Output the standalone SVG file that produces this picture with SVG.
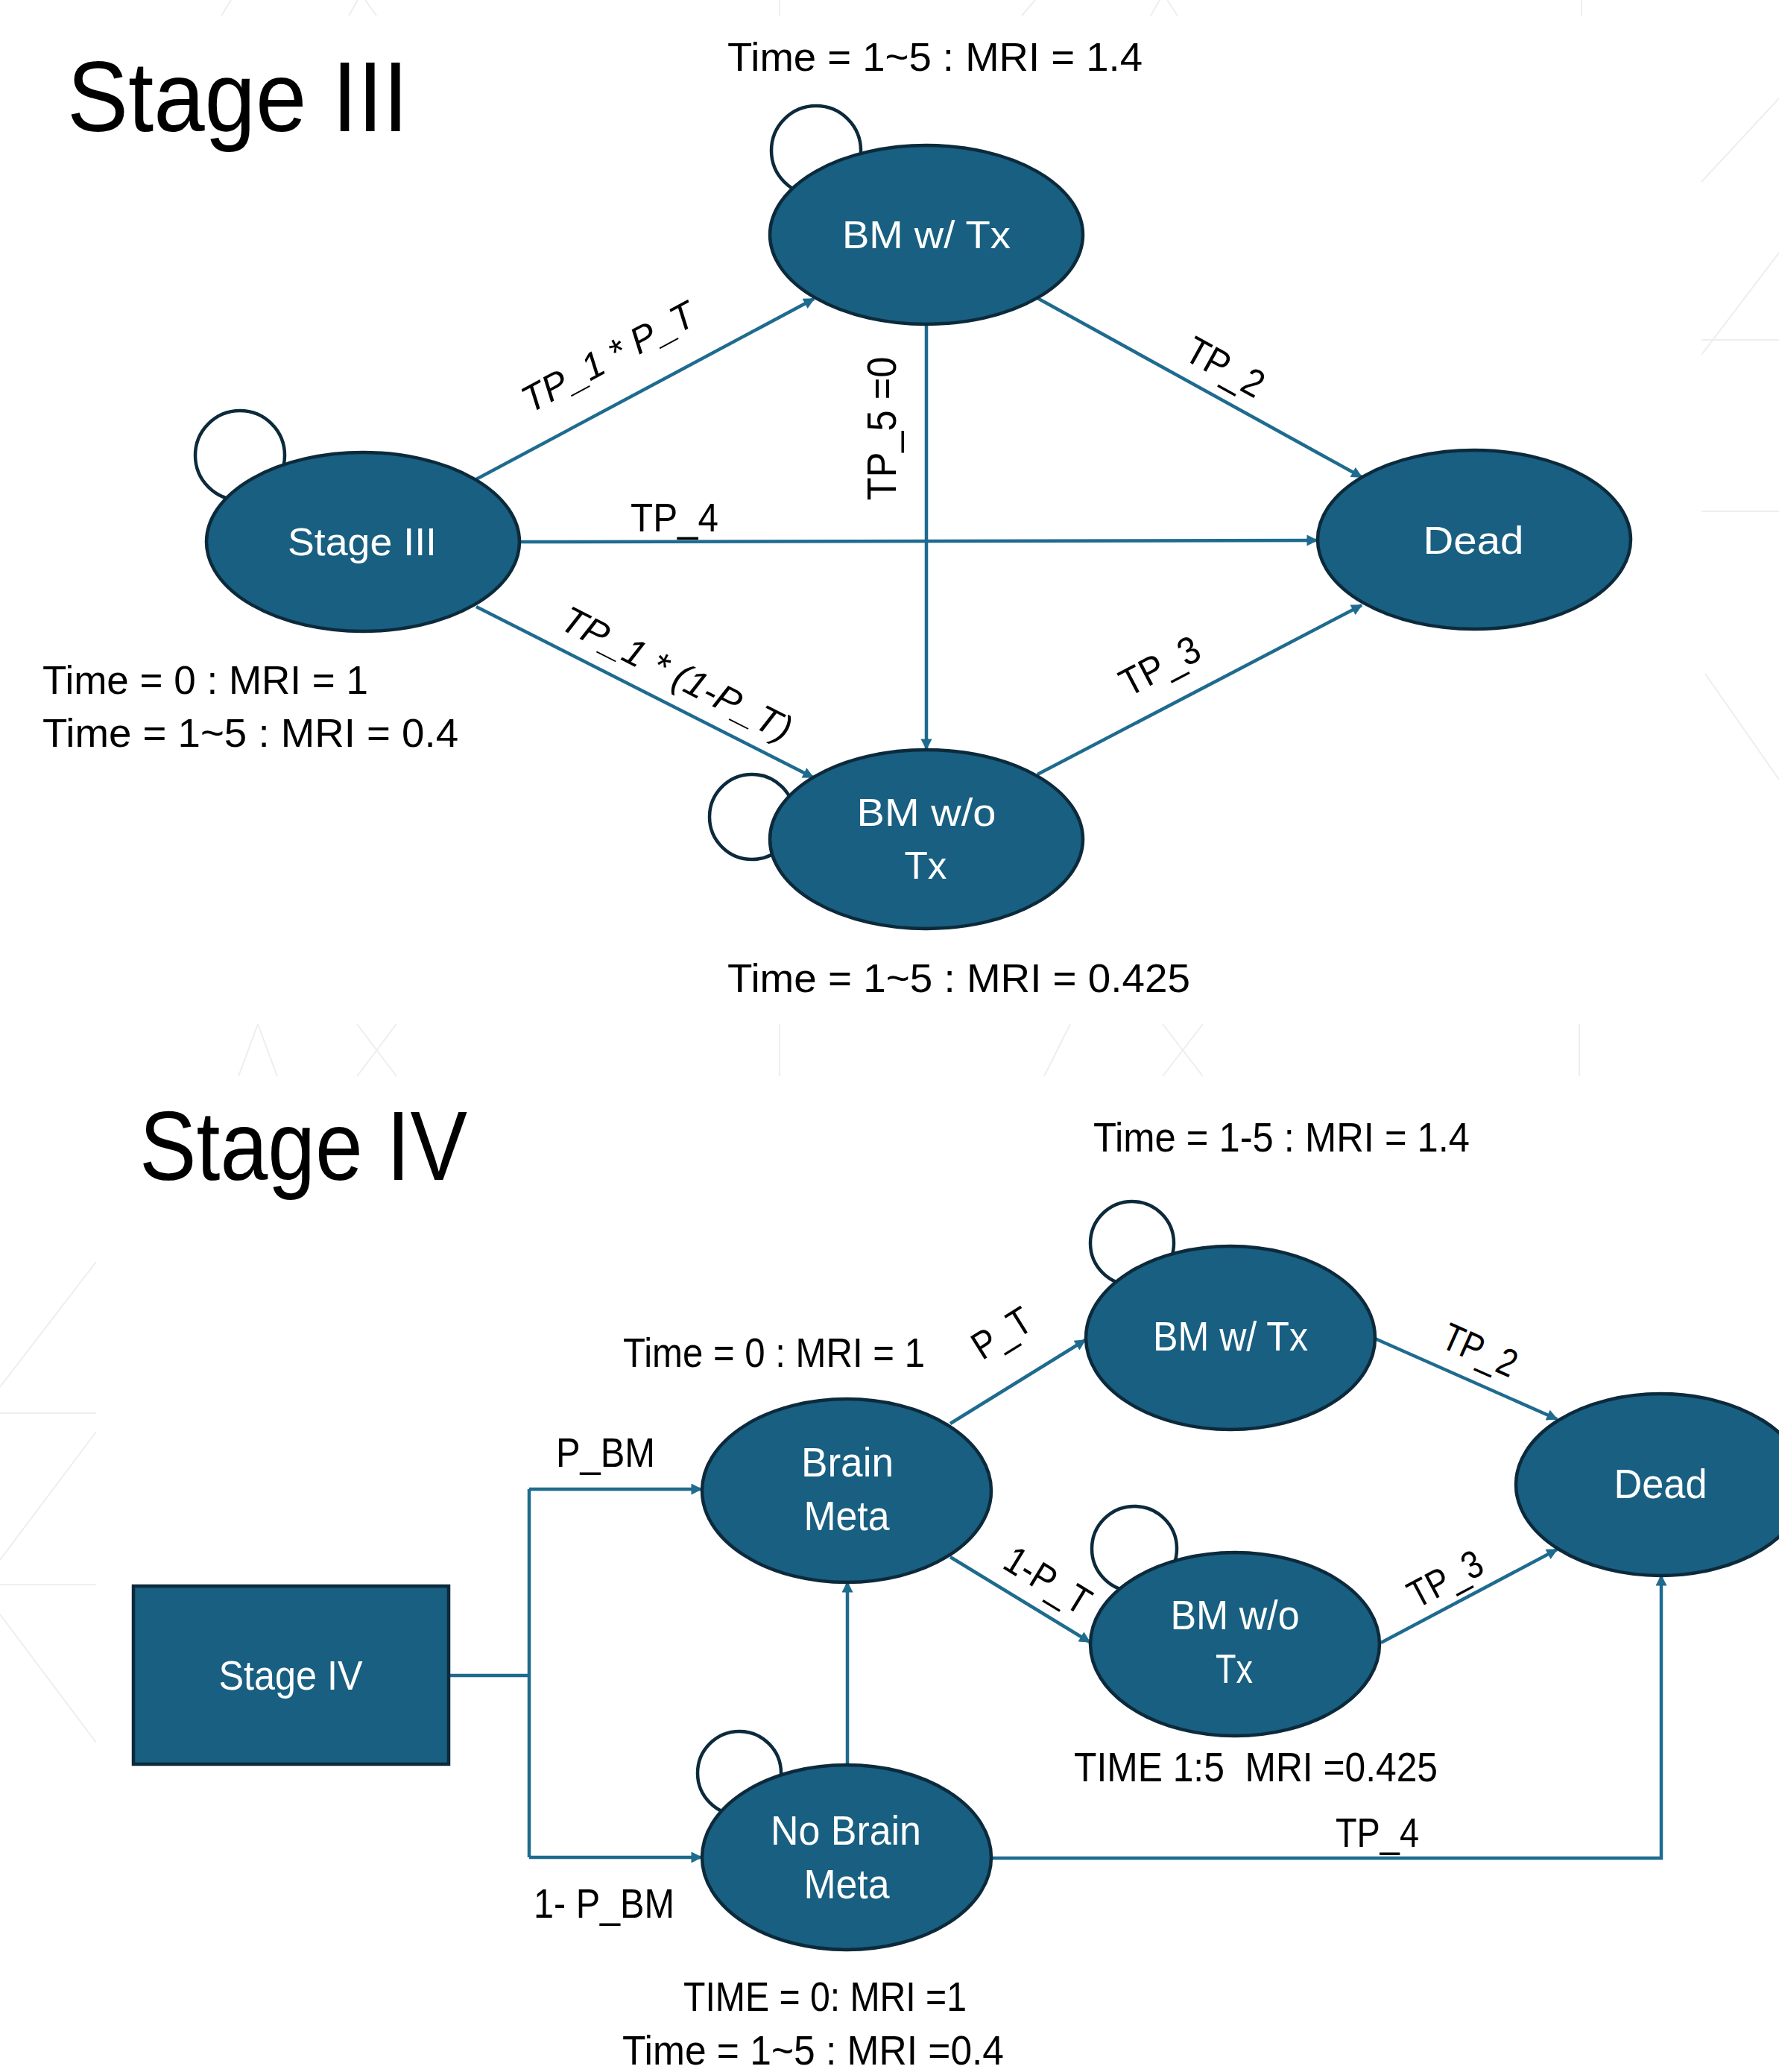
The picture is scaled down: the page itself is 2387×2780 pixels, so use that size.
<svg xmlns="http://www.w3.org/2000/svg" width="2387" height="2780" viewBox="0 0 2387 2780">
<style>
.node{fill:#185F81;stroke:#0C2A3B;stroke-width:4.5}
.loop{fill:none;stroke:#0C2A3B;stroke-width:4.5}
.edge{fill:none;stroke:#1E6B8F;stroke-width:4.5}
.bg{fill:none;stroke:#EEEEEE;stroke-width:2}
.nt{fill:#FFFFFF;font-family:"Liberation Sans",Arial,sans-serif;text-anchor:middle}
.lb{fill:#000000;font-family:"Liberation Sans",Arial,sans-serif}
.it{font-style:italic}
.title{fill:#000000;font-family:"Liberation Sans",Arial,sans-serif}
</style>
<defs>
<marker id="arr" viewBox="0 0 10 10" refX="9" refY="5" markerUnits="userSpaceOnUse" markerWidth="18" markerHeight="15" orient="auto">
<path d="M0,0 L10,5 L0,10 z" fill="#1E6B8F"/>
</marker>
</defs>
<rect x="0" y="0" width="2387" height="2780" fill="#FFFFFF"/>
<g id="background">
<path class="bg" d="M297,21 L310,0 M468,21 L480,0 M490,0 L505,21 M1046,0 V21 M1371,21 L1389,0 M1544,21 L1556,0 M1566,0 L1580,21 M2122,0 V21"/>
<path class="bg" d="M320,1444 L346,1374 M346,1374 L372,1444 M479,1374 L532,1444 M532,1374 L479,1444 M1046,1374 V1444 M1401,1444 L1436,1374 M1560,1374 L1614,1444 M1614,1374 L1560,1444 M2119,1374 V1444"/>
<path class="bg" d="M0,1861 L129,1693 M0,1896 H129 M0,2093 L129,1921 M0,2126 H129 M0,2166 L129,2338"/>
<path class="bg" d="M2283,244 L2387,132 M2283,456 H2387 M2283,476 L2387,339 M2283,686 H2387 M2288,904 L2387,1046"/>
</g>
<g id="titles">
<text class="title" x="90" y="176" font-size="134" textLength="458" lengthAdjust="spacingAndGlyphs">Stage III</text>
<text class="title" x="187" y="1583" font-size="132" textLength="440" lengthAdjust="spacingAndGlyphs">Stage IV</text>
</g>
<g id="connectors">
<line class="edge" x1="639" y1="643" x2="1092" y2="401" marker-end="url(#arr)"/>
<line class="edge" x1="1392" y1="400" x2="1827" y2="640" marker-end="url(#arr)"/>
<line class="edge" x1="698" y1="727" x2="1767" y2="725" marker-end="url(#arr)"/>
<line class="edge" x1="1243" y1="435" x2="1243" y2="1005" marker-end="url(#arr)"/>
<line class="edge" x1="639" y1="814" x2="1091" y2="1043" marker-end="url(#arr)"/>
<line class="edge" x1="1392" y1="1039" x2="1827" y2="812" marker-end="url(#arr)"/>
<path class="edge" d="M602,2248 H710 M710,1998 V2492"/>
<line class="edge" x1="710" y1="1998" x2="941" y2="1998" marker-end="url(#arr)"/>
<line class="edge" x1="710" y1="2492" x2="941" y2="2492" marker-end="url(#arr)"/>
<line class="edge" x1="1275" y1="1910" x2="1456" y2="1798" marker-end="url(#arr)"/>
<line class="edge" x1="1275" y1="2089" x2="1462" y2="2203" marker-end="url(#arr)"/>
<line class="edge" x1="1845" y1="1796" x2="2089" y2="1904" marker-end="url(#arr)"/>
<line class="edge" x1="1853" y1="2204" x2="2089" y2="2079" marker-end="url(#arr)"/>
<line class="edge" x1="1137" y1="2368" x2="1137" y2="2123" marker-end="url(#arr)"/>
<path class="edge" d="M1330,2493 H2229 V2114" marker-end="url(#arr)"/>
</g>
<g id="edge-labels">
<text class="lb it" transform="translate(817,481) rotate(-28.3)" y="15" font-size="50" text-anchor="middle" textLength="256" lengthAdjust="spacingAndGlyphs">TP_1 * P_T</text>
<text class="lb" transform="translate(1643,494) rotate(28.9)" y="16" font-size="52" text-anchor="middle" textLength="112" lengthAdjust="spacingAndGlyphs">TP_2</text>
<text class="lb" x="846" y="713" font-size="54" textLength="118" lengthAdjust="spacingAndGlyphs">TP_4</text>
<text class="lb" transform="translate(1202,575) rotate(-90)" font-size="55" text-anchor="middle" textLength="193" lengthAdjust="spacingAndGlyphs">TP_5 =0</text>
<text class="lb it" transform="translate(907,906) rotate(27)" y="15" font-size="50" text-anchor="middle" textLength="340" lengthAdjust="spacingAndGlyphs">TP_1 * (1-P_T)</text>
<text class="lb" transform="translate(1557,895) rotate(-27.7)" y="16" font-size="52" text-anchor="middle" textLength="114" lengthAdjust="spacingAndGlyphs">TP_3</text>
<text class="lb" x="746" y="1968" font-size="55" textLength="133" lengthAdjust="spacingAndGlyphs">P_BM</text>
<text class="lb" x="716" y="2573" font-size="55" textLength="189" lengthAdjust="spacingAndGlyphs">1- P_BM</text>
<text class="lb" transform="translate(1345,1790) rotate(-32)" y="16" font-size="52" text-anchor="middle" textLength="84" lengthAdjust="spacingAndGlyphs">P_T</text>
<text class="lb" transform="translate(1405,2122) rotate(31.5)" y="16" font-size="52" text-anchor="middle" textLength="126" lengthAdjust="spacingAndGlyphs">1-P_T</text>
<text class="lb" transform="translate(1985,1813) rotate(24)" y="16" font-size="52" text-anchor="middle" textLength="104" lengthAdjust="spacingAndGlyphs">TP_2</text>
<text class="lb" transform="translate(1940,2120) rotate(-28)" y="16" font-size="52" text-anchor="middle" textLength="106" lengthAdjust="spacingAndGlyphs">TP_3</text>
<text class="lb" x="1792" y="2478" font-size="55" textLength="112" lengthAdjust="spacingAndGlyphs">TP_4</text>
</g>
<g id="annotations">
<text class="lb" x="976" y="95" font-size="54" textLength="557" lengthAdjust="spacingAndGlyphs">Time = 1~5 : MRI = 1.4</text>
<text class="lb" x="57" y="931" font-size="54" textLength="437" lengthAdjust="spacingAndGlyphs">Time = 0 : MRI = 1</text>
<text class="lb" x="57" y="1002" font-size="54" textLength="558" lengthAdjust="spacingAndGlyphs">Time = 1~5 : MRI = 0.4</text>
<text class="lb" x="976" y="1331" font-size="54" textLength="621" lengthAdjust="spacingAndGlyphs">Time = 1~5 : MRI = 0.425</text>
<text class="lb" x="1467" y="1545" font-size="56" textLength="505" lengthAdjust="spacingAndGlyphs">Time = 1-5 : MRI = 1.4</text>
<text class="lb" x="836" y="1834" font-size="56" textLength="405" lengthAdjust="spacingAndGlyphs">Time = 0 : MRI = 1</text>
<text class="lb" x="1441" y="2390" font-size="56" textLength="488" lengthAdjust="spacingAndGlyphs" xml:space="preserve">TIME 1:5  MRI =0.425</text>
<text class="lb" x="917" y="2698" font-size="56" textLength="380" lengthAdjust="spacingAndGlyphs">TIME = 0: MRI =1</text>
<text class="lb" x="835" y="2770" font-size="56" textLength="512" lengthAdjust="spacingAndGlyphs">Time = 1~5 : MRI =0.4</text>
</g>
<g id="s3-stage3">
<circle class="loop" cx="322" cy="611" r="60"/>
<ellipse class="node" cx="487" cy="727" rx="210" ry="120"/>
<text class="nt" x="486" y="745" font-size="52" textLength="200" lengthAdjust="spacingAndGlyphs">Stage III</text>
</g>
<g id="s3-bm-tx">
<circle class="loop" cx="1095" cy="202" r="60"/>
<ellipse class="node" cx="1243" cy="315" rx="210" ry="120"/>
<text class="nt" x="1243" y="333" font-size="52" textLength="226" lengthAdjust="spacingAndGlyphs">BM w/ Tx</text>
</g>
<g id="s3-dead">
<ellipse class="node" cx="1978" cy="724" rx="210" ry="120"/>
<text class="nt" x="1977" y="743" font-size="52" textLength="135" lengthAdjust="spacingAndGlyphs">Dead</text>
</g>
<g id="s3-bm-wo-tx">
<circle class="loop" cx="1009" cy="1096" r="57"/>
<ellipse class="node" cx="1243" cy="1126" rx="210" ry="120"/>
<text class="nt" x="1243" y="1108" font-size="52" textLength="187" lengthAdjust="spacingAndGlyphs">BM w/o</text>
<text class="nt" x="1242" y="1179" font-size="52" textLength="57" lengthAdjust="spacingAndGlyphs">Tx</text>
</g>
<g id="s4-stage4">
<rect class="node" x="179" y="2128" width="423" height="239"/>
<text class="nt" x="390" y="2267" font-size="56" textLength="193" lengthAdjust="spacingAndGlyphs">Stage IV</text>
</g>
<g id="s4-brain-meta">
<ellipse class="node" cx="1136" cy="2000" rx="194" ry="123"/>
<text class="nt" x="1137" y="1981" font-size="56" textLength="124" lengthAdjust="spacingAndGlyphs">Brain</text>
<text class="nt" x="1136" y="2053" font-size="56" textLength="115" lengthAdjust="spacingAndGlyphs">Meta</text>
</g>
<g id="s4-no-brain-meta">
<circle class="loop" cx="992" cy="2379" r="56"/>
<ellipse class="node" cx="1136" cy="2492" rx="194" ry="124"/>
<text class="nt" x="1135" y="2475" font-size="56" textLength="202" lengthAdjust="spacingAndGlyphs">No Brain</text>
<text class="nt" x="1136" y="2547" font-size="56" textLength="115" lengthAdjust="spacingAndGlyphs">Meta</text>
</g>
<g id="s4-bm-tx">
<circle class="loop" cx="1519" cy="1668" r="56"/>
<ellipse class="node" cx="1651" cy="1795" rx="194" ry="123"/>
<text class="nt" x="1651" y="1812" font-size="56" textLength="208" lengthAdjust="spacingAndGlyphs">BM w/ Tx</text>
</g>
<g id="s4-bm-wo-tx">
<circle class="loop" cx="1522" cy="2078" r="57"/>
<ellipse class="node" cx="1657" cy="2206" rx="194" ry="123"/>
<text class="nt" x="1657" y="2186" font-size="56" textLength="173" lengthAdjust="spacingAndGlyphs">BM w/o</text>
<text class="nt" x="1656" y="2258" font-size="56" textLength="50" lengthAdjust="spacingAndGlyphs">Tx</text>
</g>
<g id="s4-dead">
<ellipse class="node" cx="2228" cy="1992" rx="194" ry="122"/>
<text class="nt" x="2228" y="2010" font-size="56" textLength="125" lengthAdjust="spacingAndGlyphs">Dead</text>
</g>
</svg>
